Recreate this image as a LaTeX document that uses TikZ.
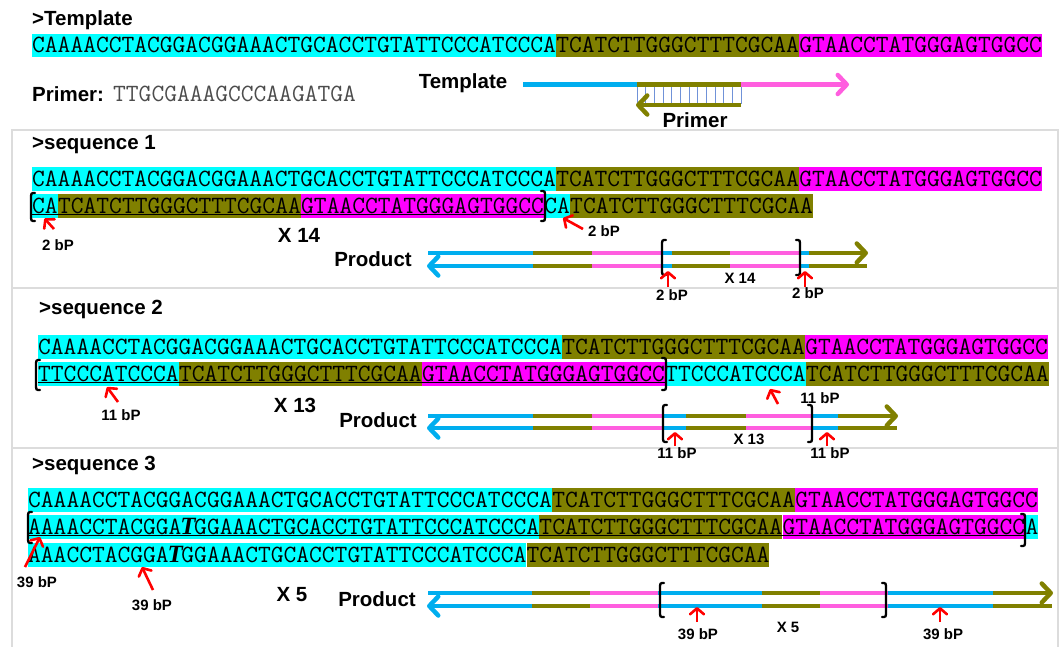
\documentclass[tikz,border=0pt]{standalone}
\usepackage{fontspec}
\setmainfont{Liberation Sans}
\newfontfamily\tserif{Liberation Serif}
\usepackage{tikz}
\usetikzlibrary{arrows.meta,positioning}
\definecolor{seqcyan}{HTML}{00FFFF}
\definecolor{seqolive}{HTML}{808000}
\definecolor{seqpink}{HTML}{FF00FF}
\definecolor{lnblue}{HTML}{00AEEF}
\definecolor{lnpink}{HTML}{FF5EDF}
\definecolor{boxgray}{HTML}{DCDCDC}
\definecolor{hatchblue}{HTML}{7092D8}
\newcommand{\boldT}{\makebox[12.78pt]{\tserif\bfseries\itshape T}}
\newcommand{\opbr}[3]{\draw[brk] ({#1+4},#2) .. controls (#1,#2) .. (#1,{#2+6}) -- (#1,{#3-6}) .. controls (#1,#3) .. ({#1+4},#3);}
\newcommand{\clbr}[3]{\draw[brk] ({#1-4},#2) .. controls (#1,#2) .. (#1,{#2+6}) -- (#1,{#3-6}) .. controls (#1,#3) .. ({#1-4},#3);}

\begin{document}
\begin{tikzpicture}[x=1pt,y=-1pt,
  seq/.style={inner xsep=0pt,inner ysep=2.75pt,text height=16pt,text depth=2pt,font=\ttfamily\fontsize{24.8}{26}\selectfont},
  lbl/.style={inner sep=0pt,font=\bfseries\fontsize{20.5}{24}\selectfont},
  bptag/.style={inner sep=0pt,font=\bfseries\fontsize{15}{18}\selectfont},
  panel/.style={draw=boxgray,line width=1.5pt},
  brk/.style={line width=2.3pt,line cap=round},
  ptr/.style={red,line width=2.6pt,-{Straight Barb[length=6pt,width=14pt,round]}},
  strand/.style={line width=4.5pt},
  endtip/.style={-{Straight Barb[length=9pt,width=19pt,round]}}]
  \useasboundingbox (0,0) rectangle (1060,646);

  \draw[panel] (12,130) rectangle (1058,288);
  \draw[panel] (12,288) rectangle (1058,448);
  \draw[panel] (12,448) rectangle (1058,660);

  \node[lbl,anchor=west] (ttl) at (32,20) {>Template};
  \node[seq,fill=seqcyan,anchor=west] (t1) at (32,45.5) {CAAAACCTACGGACGGAAACTGCACCTGTATTCCCATCCCA};
  \node[seq,fill=seqolive,right=0pt of t1] (t2) {TCATCTTGGGCTTTCGCAA};
  \node[seq,fill=seqpink,right=0pt of t2] (t3) {GTAACCTATGGGAGTGGCC};
  \node[lbl,anchor=base west] (plbl) at (32,101) {Primer:};
  \node[seq,anchor=base west,text=black!70] (pseq) at (113,101) {TTGCGAAAGCCCAAGATGA};

  \node[lbl] (tmpl) at (463,83) {Template};
  \coordinate (ta) at (523,84.5);
  \coordinate (tb) at (637,84.5);
  \coordinate (tc) at (741,84.5);
  \coordinate (td) at (849,84.5);
  \draw[strand,lnblue] (ta) -- (tb);
  \draw[strand,seqolive] (tb) -- (tc);
  \draw[strand,lnpink,endtip] (tc) -- (td);
  \foreach \i in {0,...,12}
    \draw[hatchblue,line width=0.8pt] ({637+\i*8.67},87) -- ({637+\i*8.67},104);
  \coordinate (pa) at (741,105);
  \coordinate (pb) at (636,105);
  \draw[strand,seqolive,endtip] (pa) -- (pb);
  \node[lbl] (prm) at (695,120) {Primer};

  \node[lbl,anchor=west] (h1) at (32,145) {>sequence 1};
  \node[seq,fill=seqcyan,anchor=west] (a1) at (32,179) {CAAAACCTACGGACGGAAACTGCACCTGTATTCCCATCCCA};
  \node[seq,fill=seqolive,right=0pt of a1] (a2) {TCATCTTGGGCTTTCGCAA};
  \node[seq,fill=seqpink,right=0pt of a2] (a3) {GTAACCTATGGGAGTGGCC};
  \node[seq,fill=seqcyan,anchor=west] (b1) at (32,206) {CA};
  \node[seq,fill=seqolive,right=0pt of b1] (b2) {TCATCTTGGGCTTTCGCAA};
  \node[seq,fill=seqpink,right=0pt of b2] (b3) {GTAACCTATGGGAGTGGCC};
  \node[seq,fill=seqcyan,right=0pt of b3] (b4) {CA};
  \node[seq,fill=seqolive,right=0pt of b4] (b5) {TCATCTTGGGCTTTCGCAA};
  \draw[line width=1.5pt] ([yshift=3.5pt]b1.south west) -- ([yshift=3.5pt]b3.south east);
  \opbr{31}{193}{221}
  \clbr{545}{191}{221}
  \node[bptag] (n1) at (58,245) {2 bP};
  \node[bptag] (n2) at (604,231) {2 bP};
  \coordinate (p1) at (54,229);
  \coordinate (q1) at (44.5,218.5);
  \draw[ptr] (p1) -- (q1);
  \coordinate (p2) at (583,229);
  \coordinate (q2) at (563,218);
  \draw[ptr] (p2) -- (q2);
  \node[lbl] (x1) at (299,235) {X 14};
  \node[lbl] (pr1) at (373,259) {Product};
  \foreach \xa/\xb/\cl in {428/533/lnblue,533/592/seqolive,592/663/lnpink,663/672/lnblue,672/730/seqolive,730/800/lnpink,800/809/lnblue,809/867/seqolive}{
    \draw[strand,color=\cl] (\xa,253) -- (\xb,253);
    \draw[strand,color=\cl] (\xa,266) -- (\xb,266);
  }
  \coordinate (e1a) at (850,253);
  \coordinate (e1b) at (868,253);
  \draw[strand,seqolive,endtip] (e1a) -- (e1b);
  \coordinate (f1a) at (445,266);
  \coordinate (f1b) at (427,266);
  \draw[strand,lnblue,endtip] (f1a) -- (f1b);
  \opbr{662}{240}{275}
  \clbr{800}{240}{275}
  \coordinate (p3) at (668,287);
  \coordinate (q3) at (668,271);
  \draw[ptr] (p3) -- (q3);
  \coordinate (p4) at (805,287);
  \coordinate (q4) at (805,271);
  \draw[ptr] (p4) -- (q4);
  \node[bptag] (n3) at (672,295) {2 bP};
  \node[bptag] (n4) at (808,293) {2 bP};
  \node[bptag] (x1s) at (740,278) {X 14};

  \node[lbl,anchor=west] (h2) at (39,309) {>sequence 2};
  \node[seq,fill=seqcyan,anchor=west] (c1) at (38,347) {CAAAACCTACGGACGGAAACTGCACCTGTATTCCCATCCCA};
  \node[seq,fill=seqolive,right=0pt of c1] (c2) {TCATCTTGGGCTTTCGCAA};
  \node[seq,fill=seqpink,right=0pt of c2] (c3) {GTAACCTATGGGAGTGGCC};
  \node[seq,fill=seqcyan,anchor=west] (d1) at (38,374) {TTCCCATCCCA};
  \node[seq,fill=seqolive,right=0pt of d1] (d2) {TCATCTTGGGCTTTCGCAA};
  \node[seq,fill=seqpink,right=0pt of d2] (d3) {GTAACCTATGGGAGTGGCC};
  \node[seq,fill=seqcyan,right=0pt of d3] (d4) {TTCCCATCCCA};
  \node[seq,fill=seqolive,right=0pt of d4] (d5) {TCATCTTGGGCTTTCGCAA};
  \draw[line width=1.5pt] ([yshift=3.5pt]d1.south west) -- ([yshift=3.5pt]d3.south east);
  \opbr{36}{360}{390}
  \clbr{666}{358}{390}
  \node[bptag] (n5) at (121,415) {11 bP};
  \node[bptag] (n6) at (820,398) {11 bP};
  \coordinate (p5) at (118,402);
  \coordinate (q5) at (107,387);
  \draw[ptr] (p5) -- (q5);
  \coordinate (p6) at (778,404);
  \coordinate (q6) at (770,389);
  \draw[ptr] (p6) -- (q6);
  \node[lbl] (x2) at (295,405) {X 13};
  \node[lbl] (pr2) at (378,420) {Product};
  \foreach \xa/\xb/\cl in {428/533/lnblue,533/592/seqolive,592/662/lnpink,662/686/lnblue,686/746/seqolive,746/813/lnpink,813/838/lnblue,838/897/seqolive}{
    \draw[strand,color=\cl] (\xa,416) -- (\xb,416);
    \draw[strand,color=\cl] (\xa,428) -- (\xb,428);
  }
  \coordinate (e2a) at (879,416);
  \coordinate (e2b) at (898,416);
  \draw[strand,seqolive,endtip] (e2a) -- (e2b);
  \coordinate (f2a) at (445,428);
  \coordinate (f2b) at (427,428);
  \draw[strand,lnblue,endtip] (f2a) -- (f2b);
  \opbr{663}{405}{442}
  \clbr{812}{405}{442}
  \coordinate (p7) at (675,446);
  \coordinate (q7) at (675,432);
  \draw[ptr] (p7) -- (q7);
  \coordinate (p8) at (827,446);
  \coordinate (q8) at (827,432);
  \draw[ptr] (p8) -- (q8);
  \node[bptag] (n7) at (677,453) {11 bP};
  \node[bptag] (n8) at (830,453) {11 bP};
  \node[bptag] (x2s) at (749,439) {X 13};

  \node[lbl,anchor=west] (h3) at (32,465) {>sequence 3};
  \node[seq,fill=seqcyan,anchor=west] (g1) at (28,500) {CAAAACCTACGGACGGAAACTGCACCTGTATTCCCATCCCA};
  \node[seq,fill=seqolive,right=0pt of g1] (g2) {TCATCTTGGGCTTTCGCAA};
  \node[seq,fill=seqpink,right=0pt of g2] (g3) {GTAACCTATGGGAGTGGCC};
  \node[seq,fill=seqcyan,anchor=west] (k1) at (28,527) {AAAACCTACGGA\boldT GGAAACTGCACCTGTATTCCCATCCCA};
  \node[seq,fill=seqolive,right=0pt of k1] (k2) {TCATCTTGGGCTTTCGCAA};
  \node[seq,fill=seqpink,right=0pt of k2] (k3) {GTAACCTATGGGAGTGGCC};
  \node[seq,fill=seqcyan,right=0pt of k3] (k4) {A};
  \node[seq,fill=seqcyan,anchor=west] (m1) at (28,555) {AAACCTACGGA\boldT GGAAACTGCACCTGTATTCCCATCCCA};
  \node[seq,fill=seqolive,right=0pt of m1] (m2) {TCATCTTGGGCTTTCGCAA};
  \draw[line width=1.5pt] ([yshift=3.5pt]k1.south west) -- ([yshift=3.5pt]k3.south east);
  \opbr{28}{512}{543}
  \clbr{1025}{514}{546}
  \node[bptag] (n9) at (37,582) {39 bP};
  \node[bptag] (n10) at (152,605) {39 bP};
  \coordinate (p9) at (25,567);
  \coordinate (q9) at (40,537);
  \draw[ptr] (p9) -- (q9);
  \coordinate (p10) at (153,590);
  \coordinate (q10) at (142,567);
  \draw[ptr] (p10) -- (q10);
  \node[lbl] (x3) at (292,595) {X 5};
  \node[lbl] (pr3) at (377,599) {Product};
  \foreach \xa/\xb/\cl in {428/532/lnblue,532/590/seqolive,590/658/lnpink,658/762/lnblue,762/820/seqolive,820/888/lnpink,888/993/lnblue,993/1052/seqolive}{
    \draw[strand,color=\cl] (\xa,593) -- (\xb,593);
    \draw[strand,color=\cl] (\xa,606) -- (\xb,606);
  }
  \coordinate (e3a) at (1034,593);
  \coordinate (e3b) at (1053,593);
  \draw[strand,seqolive,endtip] (e3a) -- (e3b);
  \coordinate (f3a) at (445,606);
  \coordinate (f3b) at (427,606);
  \draw[strand,lnblue,endtip] (f3a) -- (f3b);
  \opbr{660}{583}{617}
  \clbr{886}{583}{617}
  \coordinate (p11) at (697,622);
  \coordinate (q11) at (697,607);
  \draw[ptr] (p11) -- (q11);
  \coordinate (p12) at (940,622);
  \coordinate (q12) at (940,607);
  \draw[ptr] (p12) -- (q12);
  \node[bptag] (n11) at (698,634) {39 bP};
  \node[bptag] (n12) at (943,634) {39 bP};
  \node[bptag] (x3s) at (788,627) {X 5};
\end{tikzpicture}
\end{document}
